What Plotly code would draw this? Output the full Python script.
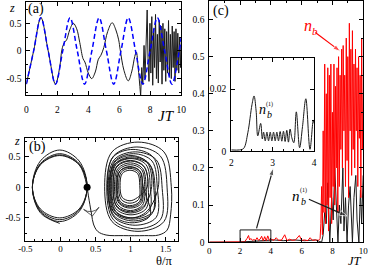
import plotly.graph_objects as go

FONT = "Liberation Serif"
W, H = 374, 273

# ---------------- panel (a): z(t) ----------------
t_blue = [0, 0.47, 0.94, 1.41, 1.88, 2.35, 2.82, 3.29, 3.76, 4.23, 4.70, 5.17, 5.64,
          6.11, 6.58, 7.05, 7.52, 7.99, 8.46, 8.93, 9.40, 9.87, 10.0]
z_blue = [-0.6, 0, 0.6, 0, -0.6, 0, 0.6, 0, -0.6, 0, 0.6, 0, -0.6,
          0, 0.6, 0, -0.6, 0, 0.6, 0, -0.6, 0, 0.24]

t_black = [0, 0.47, 0.94, 1.41, 1.88, 2.15, 2.3, 2.45, 2.6, 2.8, 3.03, 3.25, 3.45, 3.66,
           3.78, 4.0, 4.22, 4.45, 4.65, 4.81, 5.0, 5.25, 5.54, 5.78, 5.96, 6.06, 6.3,
           6.58, 6.8, 7.0, 7.1, 7.22, 7.38]
z_black = [-0.6, 0, 0.6, 0, -0.6, -0.3, 0.03, 0.15, 0.2, 0.38, 0.5, 0.4, 0.15, -0.14,
           -0.2, -0.4, -0.5, -0.38, -0.15, -0.08, 0.06, 0.35, 0.51, 0.38, 0.2, 0.02, -0.35,
           -0.54, -0.38, -0.1, -0.02, -0.3, -0.81]

t_chaos = [7.38, 7.45, 7.52, 7.6, 7.66, 7.74, 7.8, 7.86, 7.92, 7.98, 8.04, 8.1, 8.16, 8.22,
           8.28, 8.34, 8.4, 8.46, 8.52, 8.58, 8.64, 8.7, 8.76, 8.82, 8.88, 8.94, 9.0, 9.06,
           9.12, 9.18, 9.24, 9.3, 9.36, 9.42, 9.48, 9.54, 9.6, 9.66, 9.72, 9.78, 9.84, 9.9,
           9.96, 10.0]
z_chaos = [-0.81, -0.3, -0.6, 0.1, -0.5, 0.45, 0.74, -0.2, -0.55, 0.5, -0.4, 0.62, -0.62, 0.4,
           -0.3, 0.66, -0.5, 0.3, -0.58, 0.55, -0.2, 0.45, -0.6, 0.5, -0.35, 0.4, -0.55, 0.35,
           -0.4, 0.55, -0.45, 0.3, -0.5, 0.45, -0.3, 0.35, -0.55, 0.4, -0.35, 0.32, -0.4, 0.25,
           -0.3, 0.1]

# ---------------- panel (b): phase portrait ----------------
th_left = [-0.01, -0.286, -0.40, -0.286, -0.01, 0.266, 0.38, 0.266,
           -0.01, -0.286, -0.40, -0.286, -0.01, 0.266, 0.38, 0.266,
           -0.01, -0.286, -0.40, -0.286, -0.01, 0.266, 0.38, 0.266,
           -0.01, -0.286, -0.40, -0.286, -0.01, 0.266, 0.38]
z_left = [-0.59, -0.417, 0, 0.431, 0.61, 0.431, 0, -0.396,
          -0.56, -0.396, 0, 0.389, 0.55, 0.389, 0, -0.375,
          -0.53, -0.375, 0, 0.375, 0.53, 0.375, 0, -0.354,
          -0.50, -0.354, 0, 0.368, 0.52, 0.368, 0]

th_path = [0.38, 0.41, 0.445, 0.47, 0.53, 0.65, 0.9, 1.2, 1.4, 1.52, 1.57]
z_path = [0, -0.22, -0.45, -0.6, -0.72, -0.78, -0.79, -0.79, -0.78, -0.7, -0.45]

th_right = [1.58, 1.475, 1.105, 0.735, 0.63, 0.735, 1.105, 1.475,
            1.52, 1.425, 1.09, 0.755, 0.66, 0.755, 1.09, 1.425,
            1.45, 1.365, 1.065, 0.765, 0.68, 0.765, 1.065, 1.365,
            1.38, 1.305, 1.04, 0.775, 0.70, 0.775, 1.04, 1.305,
            1.33, 1.263, 1.025, 0.787, 0.72, 0.787, 1.025, 1.263,
            1.28, 1.22, 1.005, 0.79, 0.73, 0.79, 1.005, 1.22,
            1.25, 1.195, 1.0, 0.805, 0.75, 0.805, 1.0, 1.195,
            1.22, 1.17, 0.995, 0.82, 0.77, 0.82, 0.995, 1.17,
            1.20, 1.155, 0.995, 0.835, 0.79, 0.835, 0.995, 1.155,
            1.17, 1.13, 0.99, 0.85, 0.81, 0.85, 0.99, 1.13,
            1.15, 1.115, 0.99, 0.865, 0.83, 0.865, 0.99, 1.115,
            1.13, 1.10, 0.99, 0.88, 0.85, 0.88, 0.99, 1.10,
            1.24, 1.185, 0.995, 0.805, 0.75, 0.805, 0.995, 1.185,
            1.30, 1.235, 1.005, 0.775, 0.71, 0.775, 1.005, 1.235,
            1.40, 1.32, 1.035, 0.75, 0.67, 0.75, 1.035, 1.32,
            1.35, 1.277, 1.02, 0.763, 0.69, 0.763, 1.02, 1.277,
            1.18, 1.138, 0.99, 0.842, 0.80, 0.842, 0.99, 1.138, 1.18]
z_right = [0.01, 0.58, 0.74, 0.58, 0.01, -0.56, -0.72, -0.56,
           -0.01, 0.51, 0.66, 0.51, -0.01, -0.53, -0.68, -0.53,
           -0.02, 0.45, 0.58, 0.45, -0.02, -0.49, -0.62, -0.49,
           0, 0.43, 0.55, 0.43, 0, -0.43, -0.55, -0.43,
           0, 0.39, 0.5, 0.39, 0, -0.39, -0.5, -0.39,
           0.01, 0.37, 0.47, 0.37, 0.01, -0.35, -0.45, -0.35,
           0.005, 0.335, 0.43, 0.335, 0.005, -0.325, -0.42, -0.325,
           0.01, 0.31, 0.40, 0.31, 0.01, -0.29, -0.38, -0.29,
           0.015, 0.292, 0.37, 0.292, 0.015, -0.262, -0.34, -0.262,
           0.02, 0.27, 0.34, 0.27, 0.02, -0.23, -0.30, -0.23,
           0.025, 0.247, 0.31, 0.247, 0.025, -0.197, -0.26, -0.197,
           0.03, 0.225, 0.28, 0.225, 0.03, -0.165, -0.22, -0.165,
           0.02, 0.35, 0.44, 0.35, 0.02, -0.31, -0.40, -0.31,
           0.01, 0.41, 0.52, 0.41, 0.01, -0.39, -0.50, -0.39,
           0.05, 0.495, 0.62, 0.495, 0.05, -0.395, -0.52, -0.395,
           -0.05, 0.363, 0.48, 0.363, -0.05, -0.463, -0.58, -0.463,
           0.005, 0.258, 0.33, 0.258, 0.005, -0.248, -0.32, -0.248, 0.005]

dot_theta = [0.38]
dot_z = [0.0]
# direction arrow on the escaping trajectory (from, to)
arrow_b_theta = [0.435, 0.455]
arrow_b_z = [-0.30, -0.47]

# ---------------- panel (c): populations ----------------
t_nb = [0, 2.3, 2.45, 2.55, 2.62, 2.7, 2.8, 2.9, 3.0, 3.1, 3.2, 3.3, 3.4, 3.5, 3.6, 3.7,
        3.8, 3.9, 4.0, 4.2, 4.35, 4.5, 4.7, 4.9, 5.05, 5.2, 5.4, 5.6, 5.85, 6.0, 6.2,
        6.4, 6.55, 6.7, 6.9, 7.1, 7.2,
        7.25, 7.30, 7.35, 7.40, 7.45, 7.50, 7.55, 7.60, 7.65, 7.70, 7.75, 7.80, 7.85,
        7.90, 7.95, 8.00, 8.05, 8.10, 8.15, 8.20, 8.25, 8.30, 8.35, 8.40, 8.45, 8.50,
        8.55, 8.60, 8.65, 8.70, 8.75, 8.80, 8.85, 8.90, 8.95, 9.00, 9.05, 9.10, 9.15,
        9.20, 9.25, 9.30, 9.35, 9.40, 9.45, 9.50, 9.55, 9.60, 9.65, 9.70, 9.75, 9.80,
        9.85, 9.90, 9.95, 10.0]
nb = [0, 0.001, 0.01, 0.018, 0.006, 0.01, 0.005, 0.007, 0.005, 0.012, 0.005, 0.008, 0.016,
      0.004, 0.015, 0.004, 0.017, 0.005, 0.008, 0.005, 0.012, 0.005, 0.006, 0.02, 0.004,
      0.008, 0.005, 0.006, 0.018, 0.005, 0.006, 0.004, 0.012, 0.005, 0.006, 0.005, 0.01,
      0.05, 0.15, 0.02, 0.30, 0.08, 0.48, 0.05, 0.40, 0.10, 0.47, 0.03, 0.45, 0.12,
      0.48, 0.05, 0.35, 0.15, 0.48, 0.10, 0.42, 0.20, 0.47, 0.08, 0.50, 0.15, 0.45,
      0.25, 0.52, 0.20, 0.53, 0.30, 0.45, 0.15, 0.55, 0.22, 0.50, 0.12, 0.59, 0.30,
      0.52, 0.18, 0.57, 0.25, 0.48, 0.20, 0.52, 0.30, 0.47, 0.15, 0.50, 0.28, 0.45,
      0.12, 0.55, 0.25, 0.40]

t_in = [2.0, 2.2, 2.3, 2.4, 2.5, 2.55, 2.6, 2.64, 2.71, 2.75,
        2.78, 2.82, 2.86, 2.9, 2.94, 2.98, 3.02, 3.06, 3.1, 3.14, 3.18, 3.22, 3.26, 3.3,
        3.34, 3.38, 3.42, 3.46, 3.51, 3.57, 3.65, 3.72, 3.8, 3.9, 3.98, 4.0]
n1_in = [0.0005, 0.0005, 0.001, 0.006, 0.015, 0.0178, 0.013, 0.005, 0.009, 0.004,
         0.0062, 0.0034, 0.0062, 0.0034, 0.0062, 0.0034, 0.0062, 0.0034, 0.0062, 0.0034,
         0.0064, 0.0033, 0.0065, 0.0032, 0.0068, 0.003, 0.0072, 0.0045, 0.0028, 0.0127,
         0.0012, 0.008, 0.0169, 0.0007, 0.0101, 0.009]

t_n1 = [0, 1.9, 4.2, 4.8, 5.5, 6.2, 6.9, 7.3, 7.40, 7.50, 7.60, 7.70, 7.83, 7.95, 8.05, 8.15,
        8.36, 8.45, 8.55, 8.68, 8.75, 8.85, 8.95, 9.05, 9.15, 9.3, 9.4, 9.52, 9.6,
        9.72, 9.82, 9.9, 10.0]
n1 = [0, 0, 0.006, 0.004, 0.006, 0.004, 0.006, 0.0, 0.02, 0.08, 0.05, 0.16, 0.0, 0.12, 0.06,
      0.2, 0.0, 0.1, 0.05, 0.2, 0.03, 0.12, 0.0, 0.1, 0.15, 0.0, 0.12, 0.18, 0.06,
      0.0, 0.14, 0.05, 0.18]

# zoom window, pointer to the inset and label arrows (from, to)
zoom_t = [2, 4]
zoom_n = [0, 0.033]
pointer_t = [3.07, 4.16]
pointer_n = [0.037, 0.2]
arrow_nb_t = [6.89, 8.53]
arrow_nb_n = [0.565, 0.514]
arrow_n1_t = [6.47, 8.95]
arrow_n1_n = [0.1156, 0.0706]

fig = go.Figure()

# (a)
fig.add_trace(go.Scatter(x=t_black, y=z_black, mode="lines", line=dict(color="#1a1a1a", width=1, shape="spline"),
                         xaxis="x", yaxis="y", showlegend=False))
fig.add_trace(go.Scatter(x=t_chaos, y=z_chaos, mode="lines", line=dict(color="#1a1a1a", width=1),
                         xaxis="x", yaxis="y", showlegend=False))
fig.add_trace(go.Scatter(x=t_blue, y=z_blue, mode="lines",
                         line=dict(color="#0000ff", width=1.5, dash="5px,3px", shape="spline"),
                         xaxis="x", yaxis="y", showlegend=False))
# (b)
fig.add_trace(go.Scatter(x=th_left, y=z_left, mode="lines", line=dict(color="#1a1a1a", width=1, shape="spline"),
                         xaxis="x2", yaxis="y2", showlegend=False))
fig.add_trace(go.Scatter(x=th_path + th_right, y=z_path + z_right, mode="lines",
                         line=dict(color="#1a1a1a", width=1, shape="spline"),
                         xaxis="x2", yaxis="y2", showlegend=False))
fig.add_trace(go.Scatter(x=dot_theta, y=dot_z, mode="markers", marker=dict(color="black", size=7),
                         xaxis="x2", yaxis="y2", showlegend=False))
fig.add_trace(go.Scatter(x=arrow_b_theta, y=arrow_b_z, mode="markers",
                         marker=dict(symbol="arrow-wide-open", size=[0, 11], angleref="previous",
                                     color="#1a1a1a", line=dict(color="#1a1a1a", width=1)),
                         xaxis="x2", yaxis="y2", showlegend=False))
# (c)
fig.add_trace(go.Scatter(x=t_n1, y=n1, mode="lines", line=dict(color="#1a1a1a", width=1),
                         xaxis="x3", yaxis="y3", showlegend=False))
fig.add_trace(go.Scatter(x=t_nb, y=nb, mode="lines", line=dict(color="#ff0000", width=1),
                         xaxis="x3", yaxis="y3", showlegend=False))
for ax_t, ax_n, col in [(pointer_t, pointer_n, "#1a1a1a"), (arrow_nb_t, arrow_nb_n, "#ff0000"),
                        (arrow_n1_t, arrow_n1_n, "#1a1a1a")]:
    fig.add_trace(go.Scatter(x=ax_t, y=ax_n, mode="lines+markers",
                             line=dict(color=col, width=1.2),
                             marker=dict(symbol="arrow", size=[0, 8], angleref="previous", color=col),
                             xaxis="x3", yaxis="y3", showlegend=False))
# inset
fig.add_trace(go.Scatter(x=t_in, y=n1_in, mode="lines", line=dict(color="#1a1a1a", width=1, shape="spline"),
                         xaxis="x4", yaxis="y4", showlegend=False))


def axis(domain, rng, anchor, major, minor, fsize=9.5, standoff=2, **kw):
    d = dict(domain=domain, range=rng, anchor=anchor, ticks="inside", ticklen=4, tickwidth=1,
             tickcolor="black", mirror="allticks", showline=True, linecolor="black", linewidth=1,
             showgrid=False, zeroline=False,
             minor=dict(ticks="inside", dtick=minor, ticklen=2, tickcolor="black", showgrid=False),
             tickfont=dict(family=FONT, size=fsize, color="black"), ticklabelstandoff=standoff)
    if isinstance(major, (list, tuple)):
        d.update(tickmode="array", tickvals=major, ticktext=kw.pop("ticktext"))
    else:
        d.update(dtick=major)
    d.update(kw)
    return d


def px(x):
    return x / W


def py(y):
    return 1 - y / H


layout = dict(
    width=W, height=H, margin=dict(l=0, r=0, t=0, b=0),
    paper_bgcolor="white", plot_bgcolor="rgba(0,0,0,0)",
    xaxis=axis([px(20), px(180)], [0, 10], "y", 2, 1, standoff=5, tick0=0),
    yaxis=axis([py(97), py(2)], [-0.8, 0.885], "x", [-0.5, 0, 0.5], 0.25,
               ticktext=["-0.5", "0", "0.5"]),
    xaxis2=axis([px(19), px(177)], [-0.5, 1.68], "y2", [-0.5, 0, 0.5, 1, 1.5], 0.125,
                fsize=9, standoff=0, ticktext=["-0.5", "0", "0.5", "1", "1.5"]),
    yaxis2=axis([py(245), py(141)], [-0.87, 0.8], "x2", [-0.5, 0, 0.5], 0.25,
                ticktext=["-0.5", "0", "0.5"]),
    xaxis3=axis([px(209), px(368)], [0, 10], "y3", 2, 1, fsize=9, standoff=0, tick0=0),
    yaxis3=axis([py(246.7), py(1)], [0, 0.65], "x3", 0.1, 0.05, tick0=0),
    xaxis4=axis([px(231.7), px(317.3)], [2, 4], "y4", 1, 0.25, tick0=2),
    yaxis4=axis([py(154.3), py(59)], [0, 0.03], "x4", [0, 0.02], 0.01, ticktext=["0", "0.02"]),
)
fig.update_layout(**layout)


def txt(x, y, s, size, color="black", **kw):
    return dict(x=px(x), y=py(y), xref="paper", yref="paper", text=s, showarrow=False,
                xanchor="center", yanchor="middle", borderpad=0,
                font=dict(family=FONT, size=size, color=color), **kw)


ann = [
    txt(30, 9, "(a)", 14), txt(5, 8, "<i>z</i>", 12), txt(165, 118, "<i>JT</i>", 15),
    txt(31, 150, "(b)", 14), txt(10, 144, "<i>z</i>", 12), txt(162, 266, "θ/π", 12.5),
    txt(221, 11, "(c)", 14), txt(360, 266, "<i>JT</i>", 12.5),
    # n_b (red)
    txt(311, 25.5, "<i>n</i>", 16, "#ff0000"), txt(318.5, 31.5, "<i>b</i>", 11, "#ff0000"),
    # n_b^(1) in main panel
    txt(299, 199.5, "<i>n</i>", 15), txt(306, 205, "<i>b</i>", 10), txt(306.5, 194.5, "(1)", 6),
    # n_b^(1) in inset
    txt(264, 112, "<i>n</i>", 14), txt(270.8, 117, "<i>b</i>", 10), txt(271.5, 106, "(1)", 6),
]
fig.update_layout(annotations=ann)

# zoom rectangle in (c)
fig.add_shape(type="rect", xref="x3", yref="y3", x0=zoom_t[0], x1=zoom_t[1], y0=zoom_n[0], y1=zoom_n[1],
              line=dict(color="#1a1a1a", width=1))

fig.write_html("out.html", config={"displayModeBar": False},
               post_script="document.body.style.margin='0';")
